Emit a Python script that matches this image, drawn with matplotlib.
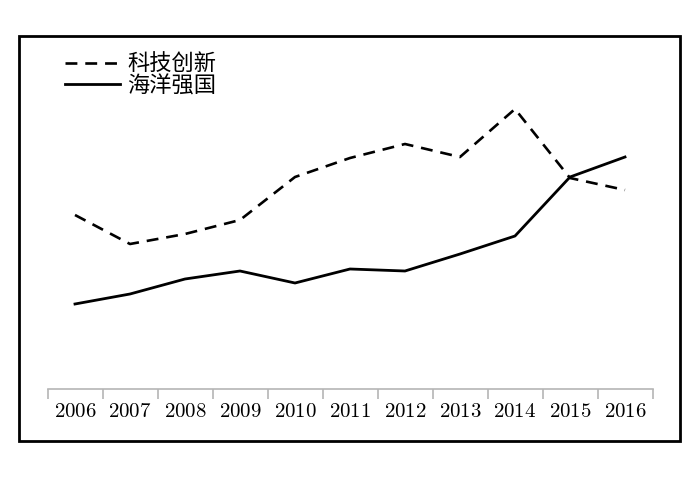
import matplotlib.pyplot as plt
from matplotlib.lines import Line2D
from matplotlib.patches import Rectangle

plt.rcParams['font.family'] = ['Noto Sans CJK SC', 'DejaVu Sans']
plt.rcParams['mathtext.fontset'] = 'cm'

# ---- data (arbitrary units) ----
years = ["2006", "2007", "2008", "2009", "2010", "2011",
         "2012", "2013", "2014", "2015", "2016"]
tech = [174, 145, 155, 169, 212, 231, 245, 232, 280, 211, 199]
ocean = [85, 95, 110, 118, 106, 120, 118, 135, 153, 212, 232]
labels = ["科技创新", "海洋强国"]

W, H = 700, 481
fig = plt.figure(figsize=(7, 4.81), dpi=100)

# outer frame
fig.add_artist(Rectangle((19 / W, 1 - 442 / H), 661 / W, 405 / H,
                         transform=fig.transFigure, fill=False,
                         edgecolor="black", linewidth=2))

ax = fig.add_axes([47.5 / W, 1 - 390 / H, 605 / W, 328 / H])
x = list(range(len(years)))
ax.plot(x, tech, color="black", linewidth=1.9, dashes=(4.5, 3))
ax.plot(x, ocean, color="black", linewidth=2)

ax.set_xlim(-0.5, len(years) - 0.5)
ax.set_ylim(0, 328)
for s in ["top", "left", "right"]:
    ax.spines[s].set_visible(False)
ax.spines["bottom"].set_color("#b5b5b5")
ax.spines["bottom"].set_linewidth(1.2)
ax.set_yticks([])
ax.set_xticks(x)
ax.set_xticklabels([r"$\mathrm{%s}$" % y for y in years], fontsize=15)
ax.tick_params(axis="x", length=0, pad=7.5)
ax.set_xticks([i - 0.5 for i in range(len(years) + 1)], minor=True)
ax.tick_params(axis="x", which="minor", length=7, width=1.2, color="#b5b5b5")

# legend drawn by hand
fig.add_artist(Line2D([65 / W, 118 / W], [1 - 64 / H, 1 - 64 / H],
                      color="black", linewidth=1.9, dashes=(4.5, 3)))
fig.add_artist(Line2D([65 / W, 120 / W], [1 - 85 / H, 1 - 85 / H],
                      color="black", linewidth=2))
fig.text(127 / W, 1 - 63 / H, labels[0], fontsize=16, va="center")
fig.text(127 / W, 1 - 86 / H, labels[1], fontsize=16, va="center")

plt.savefig("out.png", dpi=100)
